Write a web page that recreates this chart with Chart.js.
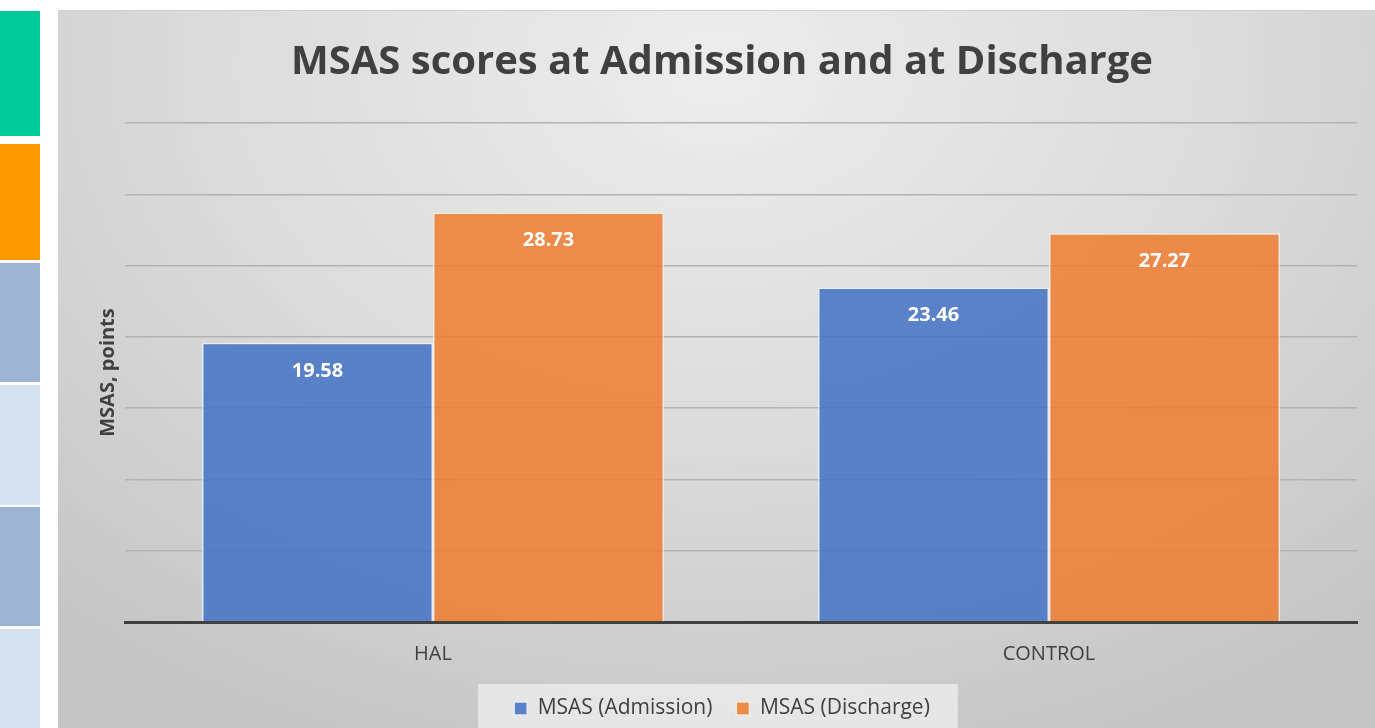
<!DOCTYPE html>
<html>
<head>
<meta charset="utf-8">
<script src="https://cdn.jsdelivr.net/npm/chart.js@4.4.1/dist/chart.umd.min.js"></script>
<style>
    html, body { margin: 0; padding: 0; background: #fff; overflow: hidden; }
    .strip { position: absolute; left: 0; width: 40px; }
    .chart-box {
        position: absolute; left: 58px; top: 10px; width: 1317px; height: 718px;
        background: radial-gradient(ellipse 75% 100% at 50% 8%, #ededed 0%, #dadada 55%, #c6c6c6 100%);
        border-top: 1px solid #d0d0d0;
    }
</style>
</head>
<body>
<div class="strip" style="top:11px;height:125px;background:#00c99a"></div>
<div class="strip" style="top:144px;height:116px;background:#ff9900"></div>
<div class="strip" style="top:263px;height:119px;background:#9db3d4"></div>
<div class="strip" style="top:385px;height:120px;background:#d3e1f1"></div>
<div class="strip" style="top:507px;height:119px;background:#9db3d4"></div>
<div class="strip" style="top:629px;height:110px;background:#d3e1f1"></div>
<div class="chart-box"><canvas id="msasChart"></canvas></div>

<script>
const categories = ['HAL', 'CONTROL'];
const admissionScores = [19.58, 23.46];
const dischargeScores = [28.73, 27.27];
const seriesLabels = ['MSAS (Admission)', 'MSAS (Discharge)'];
const yMax = 35;
const yStep = 5;

const TEXT_COLOR = '#404040';
const FONT = '"Open Sans", sans-serif';

// white value labels just inside the top of each bar
const barLabels = {
    id: 'barLabels',
    afterDatasetsDraw(chart) {
        const { ctx } = chart;
        ctx.save();
        ctx.fillStyle = '#ffffff';
        ctx.font = 'bold 20px ' + FONT;
        ctx.textAlign = 'center';
        ctx.textBaseline = 'middle';
        chart.data.datasets.forEach((ds, i) => {
            chart.getDatasetMeta(i).data.forEach((bar, j) => {
                ctx.fillText(ds.data[j].toFixed(2), bar.x, bar.y + 28);
            });
        });
        ctx.restore();
    }
};

// lighter panel behind the legend
const legendPanel = {
    id: 'legendPanel',
    beforeDraw(chart) {
        const boxes = chart.legend.legendHitBoxes;
        if (!boxes || !boxes.length) return;
        const left = Math.min(...boxes.map(b => b.left)) - 36;
        const right = Math.max(...boxes.map(b => b.left + b.width)) + 28;
        const { ctx } = chart;
        ctx.save();
        ctx.fillStyle = 'rgba(235,235,235,0.85)';
        ctx.fillRect(left, 673, right - left, 60);
        ctx.restore();
    }
};

new Chart(document.getElementById('msasChart').getContext('2d'), {
    type: 'bar',
    data: {
        labels: categories,
        datasets: [
            {
                label: seriesLabels[0],
                data: admissionScores,
                backgroundColor: 'rgba(68, 114, 196, 0.86)',
                borderColor: 'rgba(235, 240, 250, 0.9)',
                borderWidth: 1.5
            },
            {
                label: seriesLabels[1],
                data: dischargeScores,
                backgroundColor: 'rgba(237, 125, 49, 0.86)',
                borderColor: 'rgba(250, 235, 225, 0.9)',
                borderWidth: 1.5
            }
        ]
    },
    options: {
        responsive: true,
        maintainAspectRatio: false,
        animation: false,
        layout: { padding: { left: 29, right: 18, top: 0, bottom: 0 } },
        datasets: { bar: { categoryPercentage: 0.75, barPercentage: 1.0 } },
        plugins: {
            title: {
                display: true,
                text: 'MSAS scores at Admission and at Discharge',
                color: TEXT_COLOR,
                font: { family: FONT, size: 40, weight: 'bold' },
                padding: { top: 28, bottom: 36 }
            },
            legend: {
                position: 'bottom',
                labels: {
                    color: TEXT_COLOR,
                    font: { family: FONT, size: 21 },
                    boxWidth: 13,
                    boxHeight: 13,
                    padding: 24
                }
            },
            tooltip: { enabled: false }
        },
        scales: {
            x: {
                grid: { display: false },
                border: { display: true, color: '#404040', width: 3 },
                ticks: { color: TEXT_COLOR, font: { family: FONT, size: 20 }, padding: 12 },
                afterFit(scale) { scale.height = 52; }
            },
            y: {
                min: 0,
                max: yMax,
                ticks: { display: false, stepSize: yStep },
                grid: { color: '#b3b3b3', lineWidth: 1.5, drawTicks: false },
                border: { display: false },
                title: {
                    display: true,
                    text: 'MSAS, points',
                    color: TEXT_COLOR,
                    font: { family: FONT, size: 20, weight: 'bold' },
                    padding: { top: 9, bottom: 0 }
                },
                afterFit(scale) { scale.width = 38; }
            }
        }
    },
    plugins: [barLabels, legendPanel]
});
</script>
</body>
</html>
